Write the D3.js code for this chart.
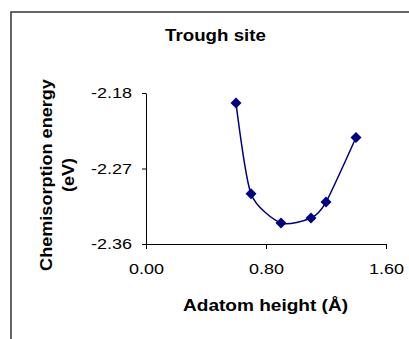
<!DOCTYPE html>
<html>
<head>
<meta charset="utf-8">
<script src="https://cdn.jsdelivr.net/npm/d3@7/dist/d3.min.js"></script>
<style>
  html, body { margin: 0; padding: 0; background: #fff; }
  svg { display: block; }
  text { font-family: "Liberation Sans", Arial, Helvetica, sans-serif; fill: #000; }
</style>
</head>
<body>
<script>
// Chemisorption energy vs adatom height, trough site
const heights = [0.6, 0.7, 0.9, 1.1, 1.2, 1.4];          // Å
const energies = [-2.192, -2.300, -2.335, -2.329, -2.310, -2.233]; // eV
const xTicks = [0.0, 0.8, 1.6];
const yTicks = [-2.36, -2.27, -2.18];
const titleText = "Trough site";
const xTitle = "Adatom height (Å)";
const yTitleLines = ["Chemisorption energy", "(eV)"];

const W = 409, H = 339;
const tickStretch = 1.2;   // wide glyph rendering of tick labels
const titleStretch = 1.17; // and of the titles

// plain hyphen-minus, two decimals
const fmt = v => v.toFixed(2);

const svg = d3.select("body").append("svg")
  .attr("width", W).attr("height", H);

// outer chart frame (runs off the right and bottom edges)
svg.append("rect")
  .attr("x", 11).attr("y", 12)
  .attr("width", W + 10).attr("height", H + 10)
  .attr("fill", "none").attr("stroke", "#333").attr("stroke-width", 1.5);

const x = d3.scaleLinear().domain([0, 1.6]).range([146, 386]);
const y = d3.scaleLinear().domain([-2.36, -2.18]).range([244, 93]);

// x axis
const gx = svg.append("g").attr("transform", `translate(0,${y(-2.36)})`)
  .call(d3.axisBottom(x).tickValues(xTicks).tickFormat(fmt)
    .tickSizeInner(5).tickSizeOuter(0).tickPadding(14));
// y axis
const gy = svg.append("g").attr("transform", `translate(${x(0)},0)`)
  .call(d3.axisLeft(y).tickValues(yTicks).tickFormat(fmt)
    .tickSizeInner(4).tickSizeOuter(0).tickPadding(10));

[gx, gy].forEach(g => {
  g.select(".domain").attr("stroke", "#000").attr("stroke-width", 1);
  g.selectAll(".tick line").attr("stroke", "#000").attr("stroke-width", 1);
  g.selectAll(".tick text")
    .attr("font-size", 15)
    .attr("font-family", "Liberation Sans, Arial, sans-serif")
    .attr("fill", "#000");
});
// horizontal widening of tick labels about their anchor
gx.selectAll(".tick text").attr("transform", `scale(${tickStretch},1)`);
gy.selectAll(".tick text").each(function () {
  const t = d3.select(this);
  const xx = +t.attr("x");
  t.attr("transform", `translate(${xx},0) scale(${tickStretch},1)`).attr("x", 0);
});

// title
svg.append("text")
  .attr("transform", `translate(215.5,41) scale(${titleStretch},1)`)
  .attr("text-anchor", "middle")
  .attr("font-size", 16).attr("font-weight", "bold")
  .text(titleText);

// x axis title
svg.append("text")
  .attr("transform", `translate(265.5,310.5) scale(${titleStretch + 0.02},1)`)
  .attr("text-anchor", "middle")
  .attr("font-size", 16).attr("font-weight", "bold")
  .text(xTitle);

// y axis title, two lines
yTitleLines.forEach((line, i) => {
  svg.append("text")
    .attr("transform", `translate(${52 + i * 22},175) rotate(-90) scale(${titleStretch - 0.04},1)`)
    .attr("text-anchor", "middle")
    .attr("font-size", 16).attr("font-weight", "bold")
    .text(line);
});

// data
const pts = heights.map((h, i) => [h, energies[i]]);

const lineGen = d3.line()
  .x(d => x(d[0])).y(d => y(d[1]))
  .curve(d3.curveCardinal.tension(0.3));

svg.append("path")
  .datum(pts)
  .attr("d", lineGen)
  .attr("fill", "none")
  .attr("stroke", "#000080")
  .attr("stroke-width", 1.5);

const diamond = d3.symbol().type(d3.symbolSquare).size(60);
svg.selectAll("path.marker")
  .data(pts)
  .join("path")
  .attr("class", "marker")
  .attr("d", diamond)
  .attr("transform", d => `translate(${x(d[0])},${y(d[1])}) rotate(45)`)
  .attr("fill", "#000080");
</script>
</body>
</html>
